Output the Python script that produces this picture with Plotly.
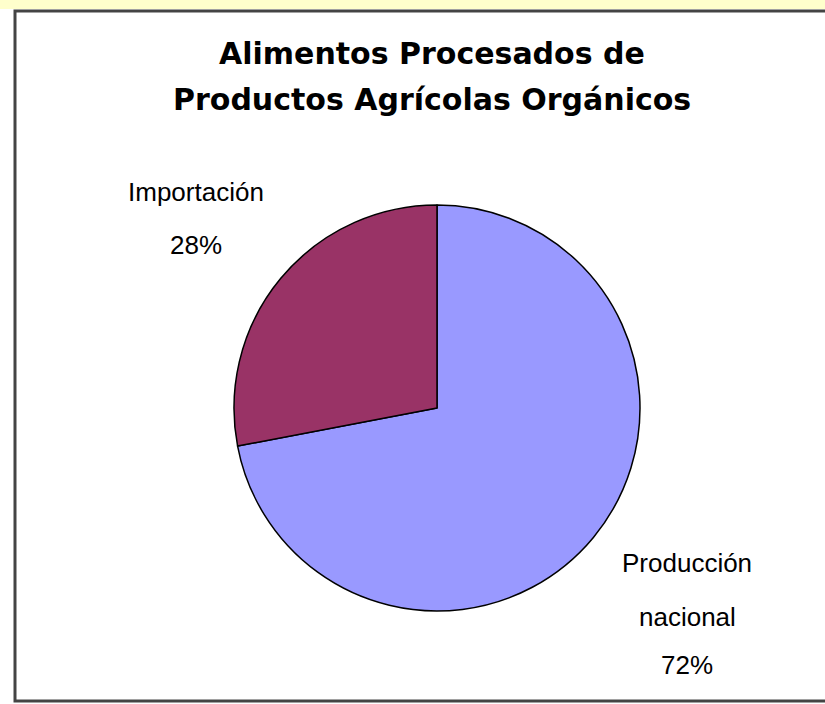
import plotly.graph_objects as go

W, H = 825, 704

title_lines = ["Alimentos Procesados de", "Productos Agrícolas Orgánicos"]
categories = ["Producción nacional", "Importación"]
values = [72, 28]
colors = ["#9999FF", "#993366"]
label_lines = [["Producción", "nacional"], ["Importación"]]

def px(x):
    return x / W

def py(y):
    return 1 - y / H

cx, cy, r = 437, 408, 203

fig = go.Figure(go.Pie(
    labels=categories,
    values=values,
    sort=False,
    direction="clockwise",
    rotation=0,
    marker=dict(colors=colors, line=dict(color="#000000", width=1.5)),
    textinfo="none",
    hoverinfo="label+percent",
    showlegend=False,
    domain=dict(x=[px(cx - r), px(cx + r)], y=[py(cy + r), py(cy - r)]),
))

annotations = []
# title
for t, yy in zip(title_lines, [53, 99]):
    annotations.append(dict(
        text=t, x=px(432), y=py(yy), xref="paper", yref="paper",
        showarrow=False, xanchor="center", yanchor="middle",
        font=dict(family="DejaVu Sans", size=30, color="#000000", weight="bold"),
    ))

# labels
total = sum(values)
label_pos = {0: (687, [563, 617, 665]), 1: (196, [192, 245])}
for i, lines in enumerate(label_lines):
    x0, ys = label_pos[i]
    texts = lines + [f"{round(values[i] / total * 100)}%"]
    for t, yy in zip(texts, ys):
        annotations.append(dict(
            text=t, x=px(x0), y=py(yy), xref="paper", yref="paper",
            showarrow=False, xanchor="center", yanchor="middle",
            font=dict(family="Liberation Sans", size=26, color="#000000"),
        ))

shapes = [
    dict(type="rect", xref="paper", yref="paper", x0=0, x1=1, y0=py(9), y1=1,
         fillcolor="#FFFFCC", line=dict(width=0), layer="below"),
    dict(type="rect", xref="paper", yref="paper", x0=px(15), x1=px(840), y0=py(701), y1=py(11),
         fillcolor="rgba(0,0,0,0)", line=dict(color="#444444", width=3)),
]

fig.update_layout(
    width=W, height=H,
    margin=dict(l=0, r=0, t=0, b=0),
    paper_bgcolor="#FFFFFF",
    plot_bgcolor="#FFFFFF",
    annotations=annotations,
    shapes=shapes,
)

fig.write_html(
    "out.html",
    config={"displayModeBar": False},
    post_script="document.body.style.margin='0';document.body.style.overflow='hidden';",
)
